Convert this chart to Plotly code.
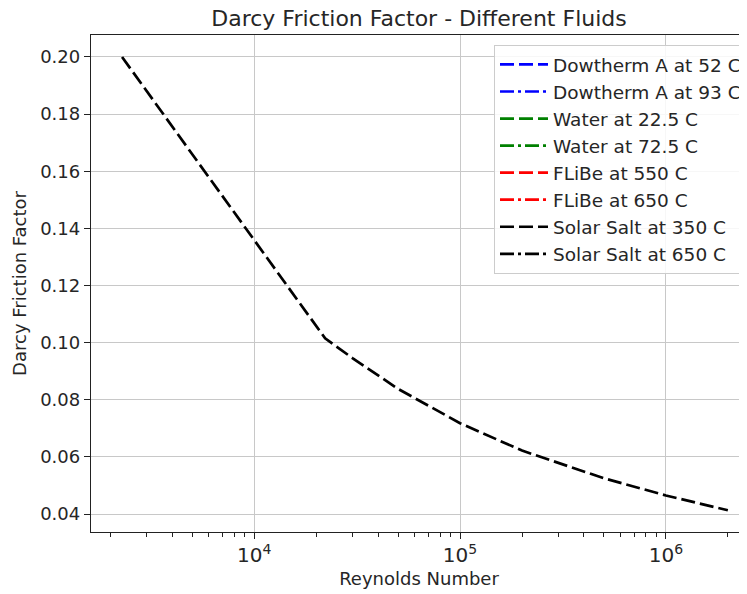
import plotly.graph_objects as go

# Data
reynolds = [2280, 22100, 30000, 50000, 100000, 200000, 500000, 1000000, 2000000]
friction = [0.200, 0.1015, 0.0946, 0.0838, 0.0718, 0.0622, 0.0525, 0.0465, 0.0413]

series_names = [
    "Dowtherm A at 52 C", "Dowtherm A at 93 C",
    "Water at 22.5 C", "Water at 72.5 C",
    "FLiBe at 550 C", "FLiBe at 650 C",
    "Solar Salt at 350 C", "Solar Salt at 650 C",
]
series_colors = ["blue", "blue", "green", "green", "red", "red", "black", "black"]
series_dash = ["dash", "dashdot"] * 4
plotted_series = "Solar Salt at 350 C"

fig = go.Figure()
for name, color, dsh in zip(series_names, series_colors, series_dash):
    dash_css = "14px,5px" if dsh == "dash" else "14px,4px,3px,4px"
    if name == plotted_series:
        xs, ys = reynolds, friction
    else:
        xs, ys = [None], [None]
    fig.add_trace(go.Scatter(
        x=xs, y=ys, mode="lines", name=name,
        line=dict(color=color, width=2.7, dash=dash_css),
    ))

font_family = "DejaVu Sans"
text_color = "#262626"
axis_common = dict(
    showline=True, linecolor="#222", linewidth=1.3, mirror=True,
    ticks="outside", ticklen=6, tickcolor="#222",
    showgrid=True, gridcolor="#c8c8c8", gridwidth=1.3,
    zeroline=False,
)

W, H = 739, 586  # page body adds ~8px margin
fig.update_layout(
    width=W, height=H,
    margin=dict(l=83, r=0, t=27, b=62),
    paper_bgcolor="white", plot_bgcolor="white",
    title=dict(text="Darcy Friction Factor - Different Fluids",
               font=dict(family=font_family, size=22, color=text_color),
               xref="paper", x=0.5, xanchor="center",
               y=1 - 10 / H, yanchor="middle"),
    showlegend=True,
    legend=dict(
        x=1.0, xanchor="right", y=0.98, yanchor="top",
        bgcolor="rgba(255,255,255,0.85)", bordercolor="#cccccc", borderwidth=1,
        font=dict(family=font_family, size=18.5, color=text_color),
        itemwidth=48,
    ),
    xaxis=dict(
        type="log", range=[3.207, 6.394], dtick=1, exponentformat="power",
        tickfont=dict(family=font_family, size=16, color=text_color),
        title=dict(text="Reynolds Number", font=dict(family=font_family, size=18, color=text_color),
                   standoff=6),
        minor=dict(ticks="outside", ticklen=3.5, tickcolor="#222", dtick="D1", showgrid=False),
        **axis_common,
    ),
    yaxis=dict(
        range=[0.0337, 0.2077], dtick=0.02, tick0=0.0, tickformat=".2f",
        tickfont=dict(family=font_family, size=18, color=text_color),
        title=dict(text="Darcy Friction Factor", font=dict(family=font_family, size=18, color=text_color),
                   standoff=8),
        **axis_common,
    ),
)

fig.write_html("out.html")
